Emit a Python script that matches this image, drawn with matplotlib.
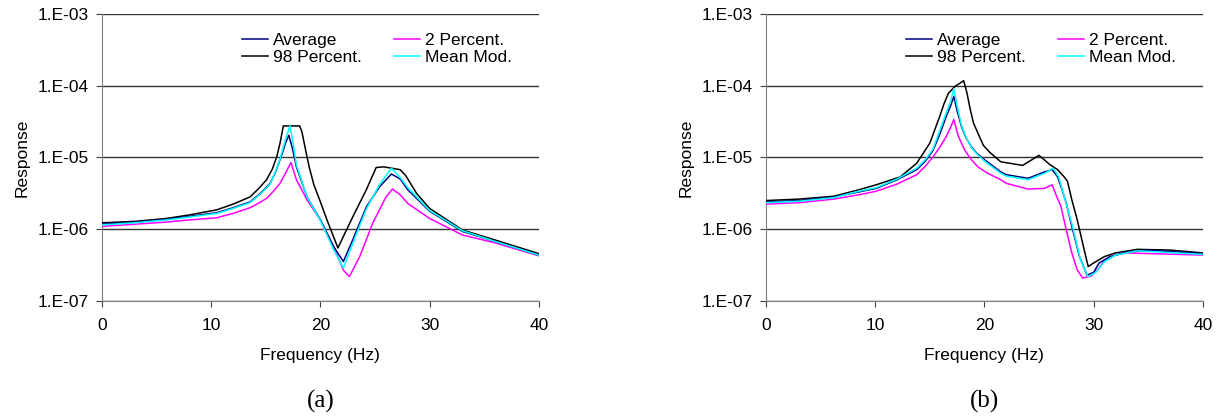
import numpy as np
import matplotlib
matplotlib.use("Agg")
import matplotlib.pyplot as plt
from matplotlib.ticker import FixedLocator, FuncFormatter

plt.rcParams["font.family"] = ["Liberation Sans", "DejaVu Sans"]

# values as log10(response)

# ---- panel (a) ----
a_avg_f = [0, 3, 5.9, 8, 10.5, 12, 13.55, 14.5, 15.4, 15.9, 16.3, 16.6, 16.8, 17.1, 17.4, 17.8,
           18.77, 20, 21.2, 22.1, 22.95, 24.2, 25.4, 26.5, 27.3, 28, 30, 33, 36, 40]
a_avg_lg = [-5.93, -5.90, -5.86, -5.82, -5.77, -5.70, -5.62, -5.50, -5.36, -5.20, -5.03, -4.90,
            -4.80, -4.69, -4.85, -5.13, -5.55, -5.87, -6.24, -6.45, -6.15, -5.69, -5.41, -5.23,
            -5.30, -5.45, -5.75, -6.03, -6.17, -6.36]

a_p98_f = [0, 3, 5.9, 8, 10.5, 12, 13.55, 14.3, 15.07, 15.6, 16.0, 16.3, 16.45, 16.6, 18.1,
           18.3, 18.77, 19.0, 19.4, 20, 20.6, 21.6, 22.95, 24.2, 25.1, 25.8, 27.3, 27.8, 28.8,
           30, 33, 36, 40]
a_p98_lg = [-5.91, -5.89, -5.85, -5.80, -5.73, -5.65, -5.55, -5.44, -5.31, -5.16, -4.99, -4.80,
            -4.68, -4.56, -4.56, -4.64, -4.99, -5.15, -5.38, -5.62, -5.87, -6.26, -5.83, -5.45,
            -5.14, -5.13, -5.17, -5.25, -5.50, -5.71, -6.01, -6.15, -6.34]

a_p2_f = [0, 3, 5.9, 8, 10.5, 12, 13.55, 14.3, 15.07, 15.7, 16.3, 16.8, 17.3, 17.8, 18.77, 20,
          21.2, 22.1, 22.65, 23.6, 24.8, 26, 26.6, 27.3, 28, 30, 33, 36, 40]
a_p2_lg = [-5.96, -5.93, -5.90, -5.87, -5.84, -5.78, -5.70, -5.64, -5.57, -5.47, -5.36, -5.22,
           -5.07, -5.31, -5.59, -5.87, -6.24, -6.57, -6.66, -6.38, -5.91, -5.55, -5.44, -5.52,
           -5.64, -5.85, -6.08, -6.19, -6.37]

a_mm_f = [0, 3, 5.9, 8, 10.5, 12, 13.55, 14.5, 15.4, 15.9, 16.3, 16.8, 17.2, 17.5, 17.8, 18.77,
          20, 21.2, 22.1, 22.95, 24.2, 25.4, 26.5, 27.3, 28, 30, 33, 36, 40]
a_mm_lg = [-5.94, -5.91, -5.87, -5.83, -5.78, -5.71, -5.63, -5.51, -5.37, -5.19, -5.02, -4.75,
           -4.56, -4.80, -5.10, -5.55, -5.88, -6.28, -6.54, -6.20, -5.72, -5.38, -5.15, -5.28,
           -5.42, -5.74, -6.02, -6.17, -6.36]

# ---- panel (b) ----
b_avg_f = [0, 3, 6.2, 8.5, 10.1, 12, 13.8, 14.6, 15.3, 15.9, 16.5, 16.9, 17.2, 17.5, 17.9, 18.3,
           18.8, 19.3, 20, 21.5, 22, 24, 25.5, 26.2, 26.7, 27, 27.5, 28, 28.7, 29.4, 30, 30.5,
           31.5, 33, 35, 40]
b_avg_lg = [-5.62, -5.60, -5.55, -5.48, -5.43, -5.31, -5.17, -5.05, -4.90, -4.68, -4.43, -4.28,
            -4.15, -4.35, -4.57, -4.72, -4.85, -4.94, -5.03, -5.20, -5.24, -5.29, -5.20, -5.17,
            -5.27, -5.40, -5.64, -5.96, -6.38, -6.64, -6.60, -6.47, -6.38, -6.32, -6.29, -6.34]

b_p98_f = [0, 3, 6.2, 8.5, 10.1, 12.3, 13.8, 15.0, 15.9, 16.3, 16.7, 17.3, 18.1, 18.4, 18.7,
           19.0, 19.4, 19.9, 20.5, 21.5, 23.5, 25, 26, 26.7, 27.3, 27.6, 28, 28.5, 29, 29.5, 30,
           31, 32, 34, 37, 40]
b_p98_lg = [-5.60, -5.58, -5.54, -5.45, -5.38, -5.27, -5.08, -4.80, -4.43, -4.25, -4.105, -4.01,
            -3.93, -4.10, -4.33, -4.52, -4.66, -4.83, -4.93, -5.06, -5.11, -4.97, -5.10, -5.17,
            -5.27, -5.33, -5.59, -5.87, -6.20, -6.52, -6.47, -6.38, -6.33, -6.28, -6.29, -6.33]

b_p2_f = [0, 3, 6.2, 8.5, 10.1, 12, 13.8, 14.6, 15.3, 15.9, 16.5, 16.9, 17.2, 17.6, 18.2, 18.8,
          19.4, 20.3, 21.5, 22, 24, 25.5, 26.2, 26.6, 27, 27.5, 28, 28.5, 29, 29.8, 30.5, 31,
          32, 33, 40]
b_p2_lg = [-5.65, -5.63, -5.58, -5.52, -5.47, -5.37, -5.24, -5.12, -4.99, -4.86, -4.71, -4.58,
           -4.47, -4.70, -4.90, -5.03, -5.13, -5.22, -5.31, -5.36, -5.44, -5.43, -5.38, -5.54,
           -5.68, -6.01, -6.33, -6.57, -6.68, -6.65, -6.54, -6.43, -6.36, -6.33, -6.36]

b_mm_f = [0, 3, 6.2, 8.5, 10.1, 12, 13.8, 14.6, 15.3, 15.9, 16.5, 16.9, 17.2, 17.5, 17.9, 18.3,
          18.8, 19.3, 20, 21.5, 22, 24, 25.5, 26.3, 26.8, 27.3, 28, 28.8, 29.5, 30.2, 31, 32,
          34, 40]
b_mm_lg = [-5.63, -5.61, -5.56, -5.47, -5.42, -5.30, -5.15, -5.03, -4.88, -4.63, -4.38, -4.22,
           -4.04, -4.28, -4.55, -4.71, -4.86, -4.95, -5.05, -5.22, -5.26, -5.31, -5.22, -5.15,
           -5.27, -5.54, -5.92, -6.43, -6.66, -6.60, -6.45, -6.36, -6.30, -6.35]

PANELS = [
    ("(a)", 0.0838, (a_avg_f, a_avg_lg), (a_p98_f, a_p98_lg), (a_p2_f, a_p2_lg), (a_mm_f, a_mm_lg)),
    ("(b)", 0.6294, (b_avg_f, b_avg_lg), (b_p98_f, b_p98_lg), (b_p2_f, b_p2_lg), (b_mm_f, b_mm_lg)),
]

FS = 12.5

fig = plt.figure(figsize=(12.17, 4.16), dpi=100)

for tag, left, avg, p98, p2, mm in PANELS:
    ax = fig.add_axes([left, 0.2764, 0.359, 0.69])
    ax.plot(p98[0], 10.0 ** np.array(p98[1]), color="black", lw=1.1, label="98 Percent.", zorder=3)
    ax.plot(p2[0], 10.0 ** np.array(p2[1]), color="#FF00FF", lw=1.1, label="2 Percent.", zorder=3)
    ax.plot(avg[0], 10.0 ** np.array(avg[1]), color="#000080", lw=1.1, label="Average", zorder=4)
    ax.plot(mm[0], 10.0 ** np.array(mm[1]), color="#00FFFF", lw=1.1, label="Mean Mod.", zorder=5)

    ax.set_yscale("log")
    ax.set_ylim(1e-7, 1e-3)
    ax.set_xlim(0, 40)
    ax.yaxis.set_major_locator(FixedLocator([1e-7, 1e-6, 1e-5, 1e-4, 1e-3]))
    ax.yaxis.set_minor_locator(FixedLocator([]))
    ax.yaxis.set_major_formatter(FuncFormatter(lambda v, p: "1.E-%02d" % round(-np.log10(v))))
    ax.set_xticks([0, 10, 20, 30, 40])
    ax.grid(axis="y", color="#333333", lw=1, zorder=1)
    ax.set_axisbelow(True)
    for s in ["top", "right"]:
        ax.spines[s].set_visible(False)
    for s in ["left", "bottom"]:
        ax.spines[s].set_color("#808080")
    ax.tick_params(axis="y", direction="out", length=4.5, color="#404040", labelsize=FS, pad=5)
    ax.tick_params(axis="x", direction="out", length=4.5, color="#404040", labelsize=FS, pad=8)
    ax.set_xlabel("Frequency (Hz)", fontsize=FS)
    ax.set_ylabel("Response", fontsize=FS)
    ax.xaxis.set_label_coords(0.5, -0.165)
    ax.yaxis.set_label_coords(-0.165, 0.5)

    h, l = ax.get_legend_handles_labels()
    order = [2, 0, 1, 3]
    ax.legend([h[i] for i in order], [l[i] for i in order], ncol=2,
              loc="upper left", bbox_to_anchor=(0.3204, 0.933), frameon=False,
              fontsize=FS, borderpad=0, borderaxespad=0, handlelength=1.5,
              handletextpad=0.3, columnspacing=1.85, labelspacing=0.08)

    ax.text(0.5, -0.35, tag, transform=ax.transAxes, ha="center", va="center",
            fontsize=18, family=["Liberation Serif", "DejaVu Serif"])

fig.savefig("out.png", dpi=100)
